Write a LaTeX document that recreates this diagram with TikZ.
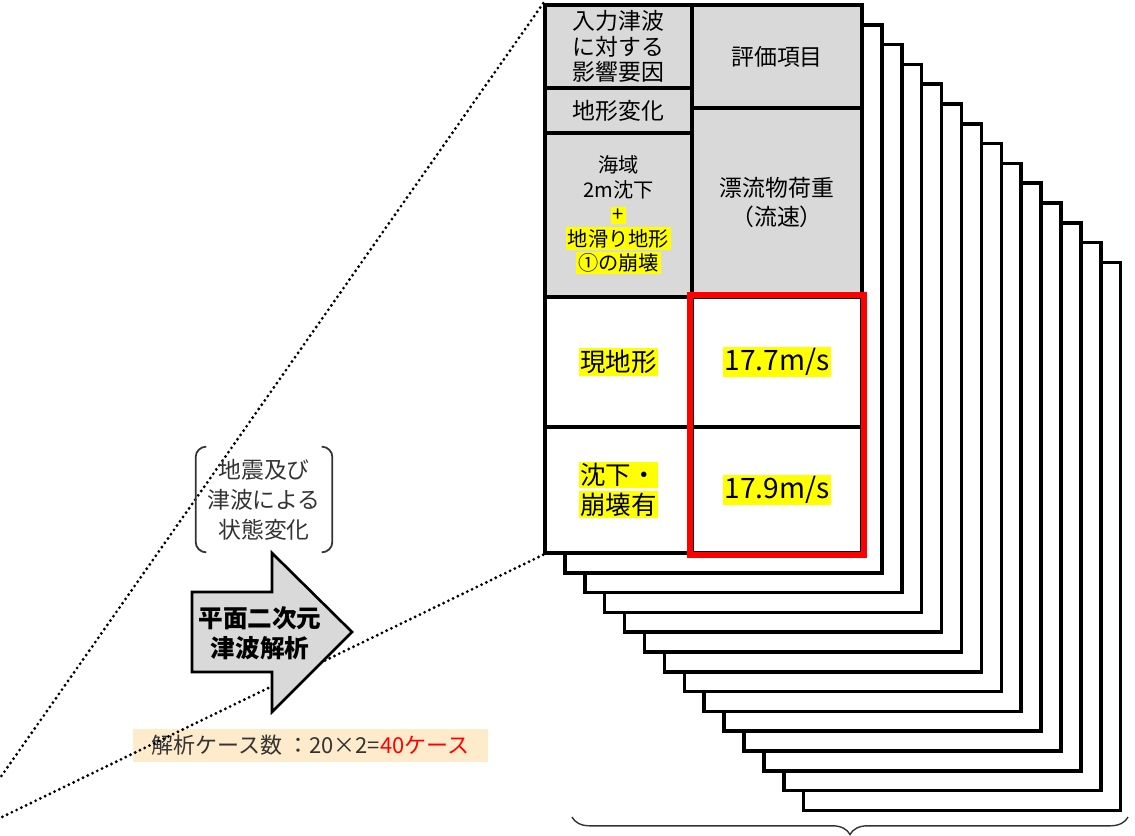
\documentclass[tikz,border=0pt]{standalone}
\usepackage{fontspec}
\setmainfont{Noto Sans CJK JP}
\usetikzlibrary{positioning, calc, decorations.pathreplacing}
\definecolor{cellgray}{HTML}{D9D9D9}
\definecolor{hlyellow}{HTML}{FFFF00}
\definecolor{casebg}{HTML}{FDEBCB}
\definecolor{txtgray}{HTML}{333333}
\newcommand{\hlt}[1]{{\setlength{\fboxsep}{1pt}\colorbox{hlyellow}{#1}}}

\begin{document}
\begin{tikzpicture}[x=0.2mm, y=-0.2mm,
    sheet/.style={draw, fill=white, line width=2pt},
    cell/.style={draw, line width=2pt, align=center, inner sep=0pt},
    headcell/.style={cell, fill=cellgray},
    dotline/.style={line width=1.8pt, dash pattern=on 0pt off 3pt, line cap=round},
    brk/.style={line width=1pt, rounded corners=6pt, txtgray}]
    \useasboundingbox (0,0) rectangle (1135,835);

    % Stacked sheets behind the table
    \foreach \i in {13,...,1}
        \draw[sheet] ({545+19.9*\i},{5+19.8*\i}) rectangle +(317,548);

    % Table
    \node[headcell, minimum width=2.94cm, minimum height=1.66cm, font=\fontsize{13}{14.5}\selectfont] (inp) at (618.5,46.5) {入力津波\\に対する\\影響要因};
    \node[headcell, minimum width=2.94cm, minimum height=0.9cm, font=\fontsize{13}{15}\selectfont] (chg) at (618.5,110.5) {地形変化};
    \node[headcell, minimum width=2.94cm, minimum height=3.28cm, font=\fontsize{11.5}{13.9}\selectfont] (cond) at (618.5,215) {海域\\2m沈下\\\hlt{+}\\\hlt{地滑り地形}\\\hlt{①の崩壊}};
    \node[headcell, minimum width=3.4cm, minimum height=2.06cm, font=\fontsize{13}{15}\selectfont] (itm) at (777,56.5) {評価項目};
    \node[headcell, minimum width=3.4cm, minimum height=3.78cm, font=\fontsize{13}{16.5}\selectfont] (load) at (777,202.5) {漂流物荷重\\（流速）};
    \node[cell, fill=white, minimum width=2.94cm, minimum height=2.6cm, font=\fontsize{14.5}{17}\selectfont] (cur) at (618.5,362) {\hlt{現地形}};
    \node[cell, fill=white, minimum width=2.94cm, minimum height=2.52cm, font=\fontsize{14.5}{17}\selectfont] (sub) at (618.5,490) {\hlt{沈下・}\\\hlt{崩壊有}};
    \node[cell, fill=white, minimum width=3.4cm, minimum height=2.6cm, font=\fontsize{16}{18}\selectfont] (v1) at (777,362) {\hlt{17.7m/s}};
    \node[cell, fill=white, minimum width=3.4cm, minimum height=2.52cm, font=\fontsize{16}{18}\selectfont] (v2) at (777,490) {\hlt{17.9m/s}};
    \draw[red, line width=3.2pt] (v1.north west) rectangle (v2.south east);

    % Case count
    \node[fill=casebg, minimum width=7.1cm, minimum height=0.66cm, text=txtgray, font=\fontsize{12.5}{14}\selectfont] (cases) at (310.5,745.5) {解析ケース数 ：20×2=\textcolor{red}{40ケース}};

    % Zoom lines
    \coordinate (lt) at (0,778);
    \coordinate (lb) at (0,818);
    \draw[dotline] (inp.north west) -- (lt);
    \draw[dotline] (sub.south west) -- (lb);

    % State change
    \node[minimum width=2.72cm, minimum height=2.1cm, text=txtgray, align=center, font=\fontsize{13}{17}\selectfont] (st) at (264,499.5) {地震及び\\津波による\\状態変化};
    \draw[brk] (st.north west) ++(10,0) -- ++(-10,0) -- (st.south west) -- ++(10,0);
    \draw[brk] (st.north east) ++(-10,0) -- ++(10,0) -- (st.south east) -- ++(-10,0);

    % Analysis arrow
    \draw[fill=cellgray, line width=1.5pt] (192,592) -- (272,592) -- (272,553) -- (352,632) -- (272,712) -- (272,672) -- (192,672) -- cycle;
    \node[font=\bfseries\fontsize{14}{17}\selectfont, align=center] (anl) at (260,633) {平面二次元\\津波解析};

    % Brace under the sheets
    \coordinate (br) at (1128,817);
    \coordinate (bl) at (572,817);
    \draw[decorate, decoration={brace, amplitude=10pt}, line width=0.8pt, txtgray] (br) -- (bl);
\end{tikzpicture}
\end{document}
